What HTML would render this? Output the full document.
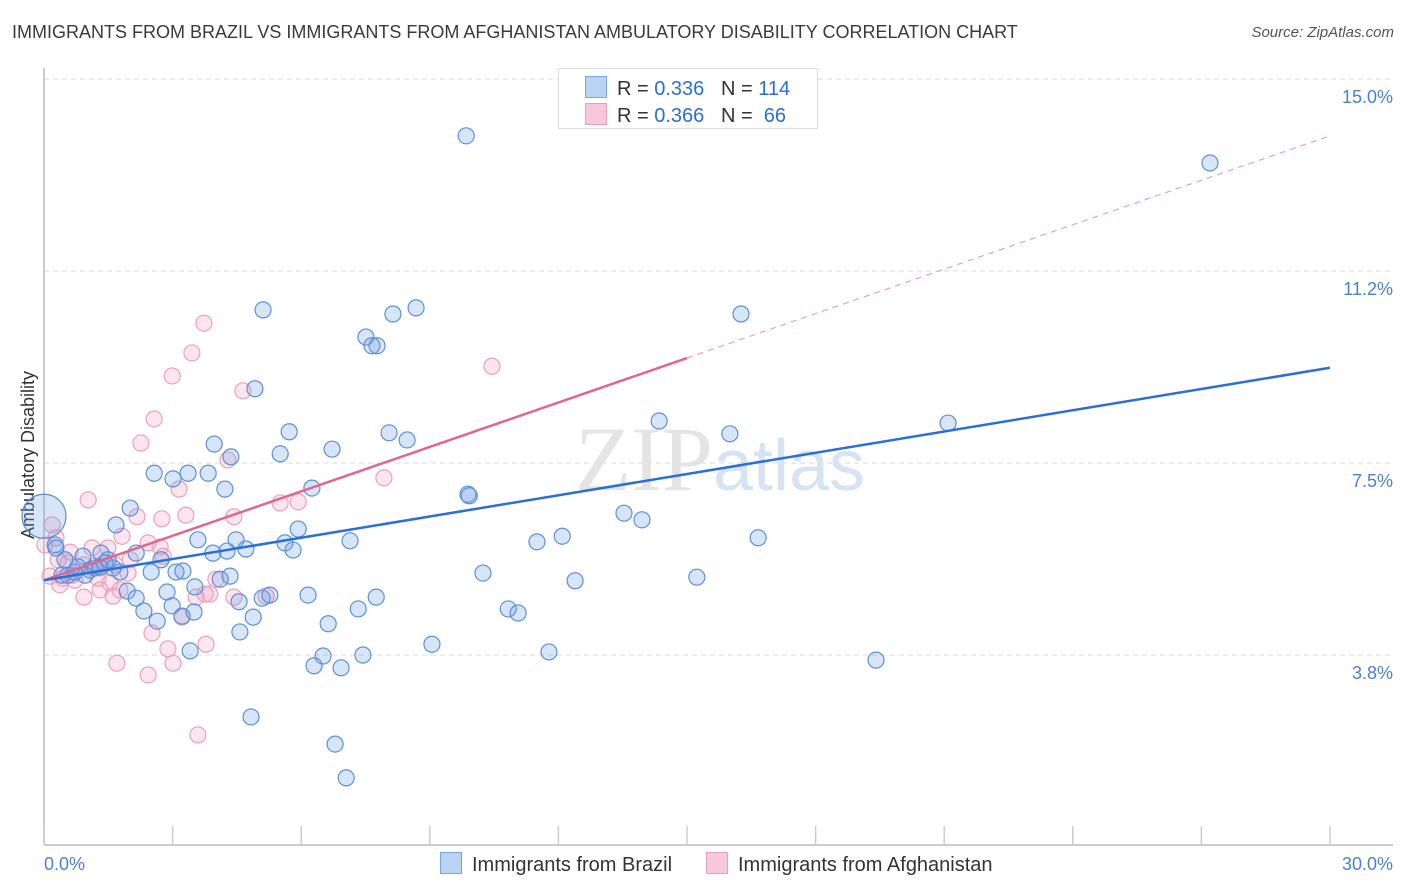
<!DOCTYPE html>
<html><head><meta charset="utf-8"><style>
body{margin:0;background:#fff;font-family:"Liberation Sans",sans-serif;}
#wrap{position:relative;width:1406px;height:892px;overflow:hidden;}
.t{position:absolute;white-space:nowrap;}
</style></head><body>
<div id="wrap">
<div class="t" style="left:12px;top:22px;font-size:18px;color:#3a3a3a;">IMMIGRANTS FROM BRAZIL VS IMMIGRANTS FROM AFGHANISTAN AMBULATORY DISABILITY CORRELATION CHART</div>
<div class="t" style="right:12px;top:24px;font-size:15px;color:#555;font-style:italic;">Source: ZipAtlas.com</div>
<svg id="plot" width="1406" height="892" style="position:absolute;left:0;top:0"></svg>
</div>
<script>
const xTicks=[0,3,6,9,12,15,18,21,24,27,30];
const yTicks=[3.75,7.5,11.25,15];
const yTickLabels=["3.8%","7.5%","11.2%","15.0%"];
const xEndLabels=["0.0%","30.0%"];
const brazilX=[9.85,27.2,5.11,8.68,8.14,16.26,7.51,7.77,7.65,4.92,14.35,21.09,16.0,8.05,5.72,8.47,3.97,6.72,5.51,4.36,2.57,3.83,3.36,3.01,4.22,6.25,9.89,9.92,13.53,13.95,2.01,1.68,5.93,12.09,11.50,7.14,16.66,5.62,5.81,4.48,3.59,4.27,3.94,4.71,2.15,1.33,2.73,0.26,0.91,0.49,10.24,12.39,15.23,2.50,3.08,3.24,4.34,4.11,0.56,1.07,1.77,1.42,1.61,1.94,2.15,2.87,3.52,4.55,5.09,5.27,6.16,7.75,7.33,10.83,11.06,2.33,2.99,3.22,2.64,3.50,4.88,6.63,4.57,9.05,11.78,3.41,6.51,7.44,6.30,6.93,19.41,4.83,6.79,7.05,0.28,0.72,0.96,1.19,0.42,1.31,1.49,0.79];
const brazilY=[13.89,13.36,10.49,10.53,10.41,10.41,9.96,9.79,9.79,8.95,8.32,8.28,8.07,8.09,8.11,7.95,7.87,7.77,7.68,7.62,7.30,7.30,7.30,7.19,6.99,7.01,6.89,6.86,6.52,6.39,6.62,6.29,6.21,6.07,5.96,5.98,6.04,5.94,5.80,6.00,6.00,5.78,5.74,5.82,5.74,5.74,5.61,5.90,5.68,5.61,5.35,5.20,5.27,5.37,5.37,5.39,5.29,5.23,5.31,5.41,5.37,5.55,5.45,5.00,4.86,4.98,5.08,4.79,4.86,4.92,4.92,4.88,4.65,4.65,4.57,4.61,4.71,4.51,4.41,4.59,4.49,4.36,4.20,3.96,3.81,3.83,3.73,3.75,3.54,3.50,3.65,2.54,2.01,1.35,5.84,5.37,5.31,5.45,5.31,5.47,5.61,5.47];
const afghanX=[3.73,3.45,10.45,2.99,4.64,2.57,2.26,4.29,7.93,3.15,1.03,5.93,2.17,3.31,2.75,4.43,5.51,0.19,0.28,1.82,2.43,2.71,1.49,2.78,0.33,0.56,0.93,1.19,1.66,1.96,0.14,0.44,0.72,1.26,1.54,4.01,4.43,3.87,5.18,3.55,0.93,1.31,1.61,3.22,3.76,2.52,2.89,3.78,1.70,3.01,2.43,3.59,0.37,0.65,1.12,2.01,1.31,0.02,0.61,1.77];
const afghanY=[10.23,9.65,9.39,9.20,8.91,8.36,7.89,7.56,7.21,6.99,6.78,6.74,6.45,6.48,6.41,6.45,6.72,6.29,6.04,6.07,5.94,5.86,5.84,5.68,5.61,5.55,5.51,5.49,5.51,5.35,5.29,5.25,5.21,5.25,5.16,5.23,4.88,4.94,4.90,4.88,4.88,5.02,4.90,4.49,4.94,4.18,3.87,3.96,3.59,3.59,3.36,2.19,5.12,5.31,5.84,5.61,5.45,5.90,5.76,5.02];
const bigX=[0.0], bigY=[6.46];
const brazilTrend=[5.21,9.36]; // y at x=0 and x=30
const afghanTrend=[5.21,9.55,13.89]; // y at 0, 15, 30
const NS="http://www.w3.org/2000/svg";
const svg=document.getElementById('plot');
const X0=44,X1=1330,YT=79,PXY=51.2;
function sx(v){return X0+(v/30)*(X1-X0);}
function sy(v){return YT+(15-v)*PXY;}
function mk(tag,attrs){const e=document.createElementNS(NS,tag);for(const k in attrs)e.setAttribute(k,attrs[k]);svg.appendChild(e);return e;}
// gridlines
yTicks.forEach((v,i)=>{
 const g=mk('line',{x1:X0,x2:1393,y1:sy(v),y2:sy(v),stroke:'#d8d8d8','stroke-dasharray':'5,4','stroke-width':1});
 
 
 const t=mk('text',{x:1393,y:sy(v)+24,'text-anchor':'end','font-size':18,fill:'#4a7fd6','font-family':'Liberation Sans, sans-serif'});
 t.textContent=yTickLabels[i];
 
 
});
// axes
let a=mk('line',{x1:X0,x2:X0,y1:68,y2:845,stroke:'#bbb','stroke-width':1.5});


a=mk('line',{x1:X0,x2:1393,y1:845,y2:845,stroke:'#bbb','stroke-width':1.5});


xTicks.forEach(v=>{
 const l=mk('line',{x1:sx(v),x2:sx(v),y1:826,y2:845,stroke:'#ccc','stroke-width':1.5});
 
 
});
let tl=mk('text',{x:44,y:870,'font-size':18,fill:'#4a7fd6','font-family':'Liberation Sans, sans-serif'});
tl.textContent=xEndLabels[0];


tl=mk('text',{x:1393,y:870,'text-anchor':'end','font-size':18,fill:'#4a7fd6','font-family':'Liberation Sans, sans-serif'});
tl.textContent=xEndLabels[1];


let yl=mk('text',{x:0,y:0,transform:'translate(34,455) rotate(-90)','text-anchor':'middle','font-size':18,fill:'#333','font-family':'Liberation Sans, sans-serif'});
yl.textContent='Ambulatory Disability';


// watermark
let wm=mk('text',{x:720,y:490,'text-anchor':'middle','font-size':92,fill:'#e4e4e4','font-family':'Liberation Serif, serif'});
wm.innerHTML='ZIP<tspan fill="#d6e3f3" font-family="Liberation Sans, sans-serif" font-size="72">atlas</tspan>';


// points
afghanX.forEach((v,i)=>{
 const c=mk('circle',{cx:sx(v),cy:sy(afghanY[i]),r:8,fill:'rgba(244,160,190,0.28)',stroke:'#eaa0bb','stroke-width':1.2});
 
 
});
brazilX.forEach((v,i)=>{
 const c=mk('circle',{cx:sx(v),cy:sy(brazilY[i]),r:8,fill:'rgba(110,160,230,0.28)',stroke:'#5d8fd8','stroke-width':1.2});
 
 
});
bigX.forEach((v,i)=>{
 const c=mk('circle',{cx:sx(v),cy:sy(bigY[i]),r:22,fill:'rgba(110,160,230,0.28)',stroke:'#5d8fd8','stroke-width':1.2});
 
 
});
// trend lines
let tr=mk('line',{x1:sx(15),y1:sy(afghanTrend[1]),x2:sx(30),y2:sy(afghanTrend[2]),stroke:'#e8a0b8','stroke-width':1.2,'stroke-dasharray':'6,5'});


tr=mk('line',{x1:sx(0),y1:sy(afghanTrend[0]),x2:sx(15),y2:sy(afghanTrend[1]),stroke:'#e0668f','stroke-width':2.5});


tr=mk('line',{x1:sx(0),y1:sy(brazilTrend[0]),x2:sx(30),y2:sy(brazilTrend[1]),stroke:'#2b6fd6','stroke-width':2.5});


</script>
<div class="t" style="left:558px;top:68px;width:260px;height:61px;border:1px solid #ddd;background:#fff;box-sizing:border-box;font-size:20px;color:#333;">
 <div style="position:absolute;left:26px;top:7px;"><span style="display:inline-block;width:20px;height:20px;background:#b9d3f5;border:1px solid #7aa6e0;vertical-align:-3px;margin-right:10px;"></span>R = <span style="color:#2b6fd6">0.336</span>&nbsp;&nbsp;&nbsp;N = <span style="color:#2b6fd6">114</span></div>
 <div style="position:absolute;left:26px;top:34px;"><span style="display:inline-block;width:20px;height:20px;background:#f8c8d8;border:1px solid #e8a0b8;vertical-align:-3px;margin-right:10px;"></span>R = <span style="color:#2b6fd6">0.366</span>&nbsp;&nbsp;&nbsp;N = &nbsp;<span style="color:#2b6fd6">66</span></div>
</div>
<div class="t" style="left:440px;top:852px;font-size:20px;color:#333;"><span style="display:inline-block;width:20px;height:20px;background:#b9d3f5;border:1px solid #7aa6e0;vertical-align:-3px;margin-right:10px;"></span>Immigrants from Brazil</div>
<div class="t" style="left:706px;top:852px;font-size:20px;color:#333;"><span style="display:inline-block;width:20px;height:20px;background:#f8c8d8;border:1px solid #e8a0b8;vertical-align:-3px;margin-right:10px;"></span>Immigrants from Afghanistan</div>
</body></html>
